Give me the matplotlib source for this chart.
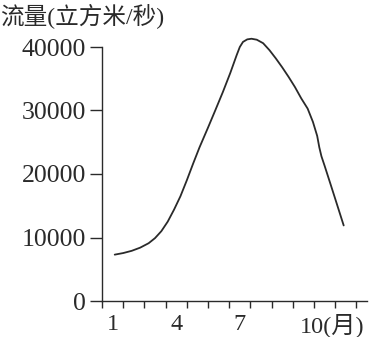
import numpy as np
import matplotlib
matplotlib.use("Agg")
import matplotlib.pyplot as plt
from matplotlib.transforms import ScaledTranslation

# monthly river discharge
months = [1.1, 1.5, 1.9, 2.3, 2.7, 3.0, 3.3, 3.6, 3.9, 4.2, 4.5, 4.8, 5.1, 5.5,
          5.84, 6.2, 6.55, 6.85, 7.0, 7.15, 7.35, 7.55, 7.8, 8.1, 8.4, 8.7, 9.0,
          9.3, 9.6, 9.9, 10.2, 10.45, 10.65, 10.75, 10.85, 11.0, 11.27, 11.5,
          11.7, 11.9]
flow = [7300, 7550, 7900, 8400, 9100, 9900, 11000, 12500, 14400, 16500, 19000,
        21650, 24200, 27300, 30000, 32900, 35900, 38700, 40000, 40800, 41200,
        41300, 41150, 40600, 39500, 38200, 36800, 35300, 33700, 31900, 30300,
        28200, 26000, 24200, 22800, 21300, 18500, 16100, 14000, 11900]

xtick_pos = [1, 4, 7, 10]
xtick_labels = ["1", "4", "7", "10(月)"]
ytick_pos = [0, 10000, 20000, 30000, 40000]
ytitle = "流量(立方米/秒)"

fonts = ["Liberation Serif", "Noto Sans CJK SC", "DejaVu Sans"]
ink = "#2a2a2a"

fig = plt.figure(figsize=(3.71, 3.37), dpi=100)
ax = fig.add_axes([102 / 371, 36 / 337, 265 / 371, 254 / 337])

ax.plot(months, flow, color=ink, lw=1.3, clip_on=False,
        solid_capstyle="round", solid_joinstyle="round")

ax.set_xlim(0.5, 13.0)
ax.set_ylim(0, 40000)

for s in ["top", "right"]:
    ax.spines[s].set_visible(False)
for s in ["left", "bottom"]:
    ax.spines[s].set_color(ink)
    ax.spines[s].set_linewidth(1.0)

# month boundary ticks below the axis
ax.set_xticks(np.arange(0.5, 13.0, 1.0), minor=True)
ax.tick_params(axis="x", which="minor", direction="out", length=5, width=1.0, color=ink)
ax.set_xticks(xtick_pos)
ax.set_xticklabels(xtick_labels)
ax.tick_params(axis="x", which="major", length=0, pad=9, labelsize=17.5, labelcolor=ink)
for lab in ax.get_xticklabels():
    lab.set_family(fonts)
last = ax.get_xticklabels()[-1]
last.set_ha("left")
last.set_transform(last.get_transform() + ScaledTranslation(-4 / 100, 0, fig.dpi_scale_trans))

ax.set_yticks(ytick_pos)
ax.set_yticklabels([str(v) for v in ytick_pos])
ax.tick_params(axis="y", direction="out", length=8.5, width=1.0, color=ink,
               pad=3, labelsize=18.5, labelcolor=ink)
for lab in ax.get_yticklabels():
    lab.set_family(fonts)

fig.text(0.0, 1 - 4 / 337, ytitle, ha="left", va="top", fontsize=17,
         family=fonts, color=ink)

fig.savefig("out.png", dpi=100, facecolor="white")
